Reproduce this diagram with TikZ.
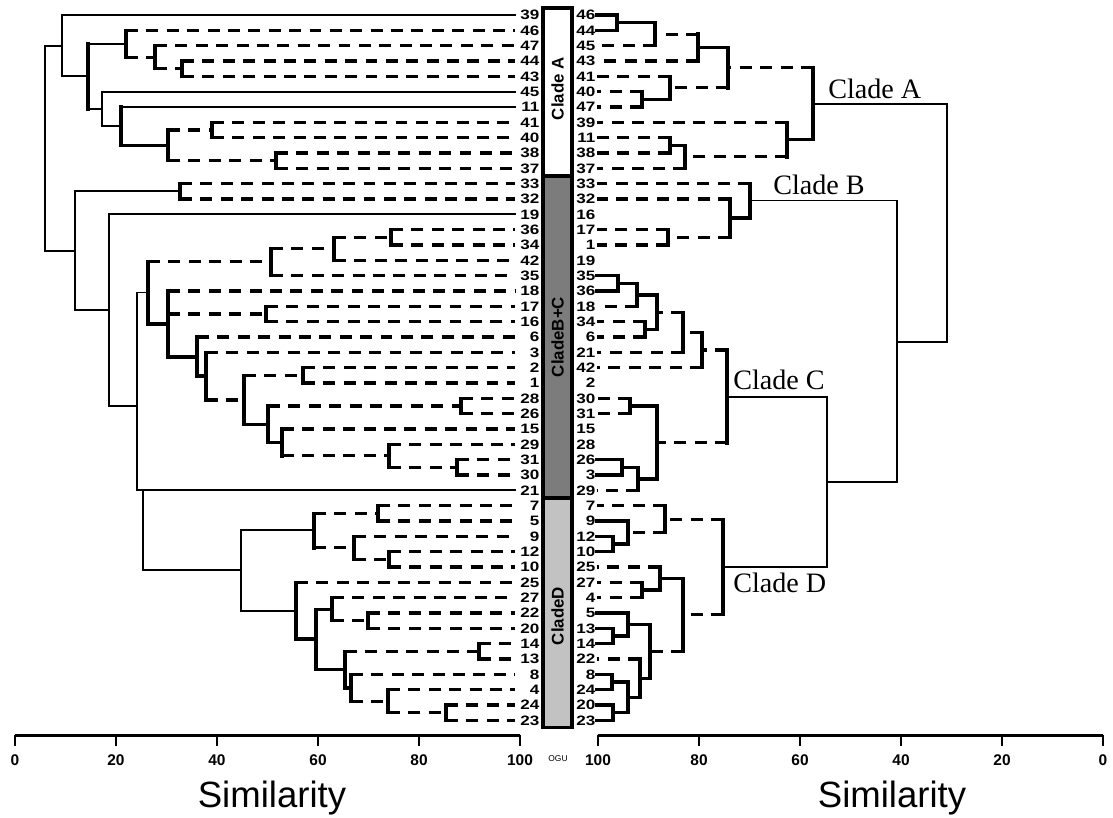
\documentclass[tikz,border=0pt]{standalone}
\usepackage{fontspec}
\setmainfont{Liberation Serif}
\setsansfont{Liberation Sans}
\newfontfamily\lblfont{Liberation Sans}[FakeStretch=1.25]
\usetikzlibrary{calc}
\definecolor{bardark}{HTML}{7C7C7C}
\definecolor{barlight}{HTML}{C2C2C2}
\tikzset{
  deep/.style={line width=1.3pt, line cap=rect},
  heavy/.style={line width=2.4pt, line cap=rect},
  dashy/.style={line width=2.3pt, dash pattern=on 8.5pt off 6pt},
  lbl/.style={font=\lblfont\bfseries\fontsize{9.7}{10}\selectfont, anchor=east,
              text width=16pt, align=right, text height=7pt, text depth=0pt,
              inner xsep=1pt, inner ysep=0.4pt},
  cladetxt/.style={font=\fontsize{20}{24}\selectfont, anchor=west, inner sep=0pt},
  barbox/.style={line width=2.2pt},
  bartxt/.style={rotate=90, inner sep=0pt, font=\sffamily\bfseries\fontsize{12}{14}\selectfont},
  axis/.style={line width=2pt},
  tick/.style={font=\sffamily\bfseries\fontsize{11}{13}\selectfont},
  axlbl/.style={font=\sffamily\fontsize{26}{30}\selectfont},
}
% one join of a dendrogram: vertical style, parent, style and child 1, style and child 2
\newcommand{\branch}[6]{%
  \draw[#1] (#2 |- #4) -- (#2 |- #6);
  \draw[#3] (#2 |- #4) -- (#4);
  \draw[#5] (#2 |- #6) -- (#6);}

\begin{document}
\begin{tikzpicture}[x=0.025cm, y={(0cm,-0.38325cm)}]
  \useasboundingbox (0,-0.978) rectangle (1113,52.316);
  \fill[white] (0,-0.978) rectangle (1113,52.316);

  % OGU bar
  \draw[barbox, fill=white] (543,-0.457) rectangle (572,10.5);
  \draw[barbox, fill=bardark] (543,10.5) rectangle (572,31.5);
  \draw[barbox, fill=barlight] (543,31.5) rectangle (572,46.45);
  \node[bartxt] (barA) at (557.5,4.8) {Clade A};
  \node[bartxt] (barBC) at (557.5,21) {CladeB+C};
  \node[bartxt] (barD) at (557.5,39.2) {CladeD};

  % leaf labels
  \foreach \n [count=\i from 0] in {39,46,47,44,43,45,11,41,40,38,37,33,32,19,36,34,42,35,18,17,16,6,3,2,1,28,26,15,29,31,30,21,7,5,9,12,10,25,27,22,20,14,13,8,4,24,23}
    \node[lbl] (L\n) at (541,\i) {\n};
  \foreach \n [count=\i from 0] in {46,44,45,43,41,40,47,39,11,38,37,33,32,16,17,1,19,35,36,18,34,6,21,42,2,30,31,15,28,26,3,29,7,9,12,10,25,27,4,5,13,14,22,8,24,20,23}
    \node[lbl] (R\n) at (597,\i) {\n};

  % left tree, clade A
  \coordinate (l-44-43) at (182,3.5);
  \coordinate (l-47) at (155,2.75);
  \coordinate (l-46) at (126,1.875);
  \coordinate (l-41-40) at (212,7.5);
  \coordinate (l-38-37) at (276,9.5);
  \coordinate (l-41-37) at (168,8.5);
  \coordinate (l-11) at (121,7.25);
  \coordinate (l-45) at (102,6.125);
  \coordinate (l-46-37) at (88,4);
  \coordinate (l-A) at (62,2);
  \branch{heavy}{l-44-43}{dashy}{L44.west}{dashy}{L43.west}
  \branch{heavy}{l-47}{dashy}{L47.west}{dashy}{l-44-43}
  \branch{heavy}{l-46}{dashy}{L46.west}{dashy}{l-47}
  \branch{heavy}{l-41-40}{dashy}{L41.west}{dashy}{L40.west}
  \branch{heavy}{l-38-37}{dashy}{L38.west}{dashy}{L37.west}
  \branch{heavy}{l-41-37}{dashy}{l-41-40}{dashy}{l-38-37}
  \branch{heavy}{l-11}{deep}{L11.west}{heavy}{l-41-37}
  \branch{deep}{l-45}{deep}{L45.west}{deep}{l-11}
  \branch{heavy}{l-46-37}{deep}{l-46}{deep}{l-45}
  \branch{deep}{l-A}{deep}{L39.west}{deep}{l-46-37}

  % left tree, clades B and C
  \coordinate (l-33-32) at (180,11.5);
  \coordinate (l-36-34) at (391,14.5);
  \coordinate (l-36-42) at (334,15.25);
  \coordinate (l-36-35) at (271,16.1);
  \coordinate (l-17-16) at (266,19.5);
  \coordinate (l-2-1) at (303,23.5);
  \coordinate (l-28-26) at (461,25.5);
  \coordinate (l-31-30) at (457,29.5);
  \coordinate (l-29-30) at (389,28.75);
  \coordinate (l-15-30) at (282,27.875);
  \coordinate (l-28-30) at (268,26.7);
  \coordinate (l-2-30) at (244,25.1);
  \coordinate (l-3-30) at (206,23.55);
  \coordinate (l-6-30) at (197,22.3);
  \coordinate (l-18-30) at (168,20.15);
  \coordinate (l-36-30) at (148,18.1);
  \branch{heavy}{l-33-32}{dashy}{L33.west}{dashy}{L32.west}
  \branch{heavy}{l-36-34}{dashy}{L36.west}{dashy}{L34.west}
  \branch{heavy}{l-36-42}{dashy}{l-36-34}{dashy}{L42.west}
  \branch{heavy}{l-36-35}{dashy}{l-36-42}{dashy}{L35.west}
  \branch{heavy}{l-17-16}{dashy}{L17.west}{dashy}{L16.west}
  \branch{heavy}{l-2-1}{dashy}{L2.west}{dashy}{L1.west}
  \branch{heavy}{l-28-26}{dashy}{L28.west}{dashy}{L26.west}
  \branch{heavy}{l-31-30}{dashy}{L31.west}{dashy}{L30.west}
  \branch{heavy}{l-29-30}{dashy}{L29.west}{dashy}{l-31-30}
  \branch{heavy}{l-15-30}{dashy}{L15.west}{dashy}{l-29-30}
  \branch{heavy}{l-28-30}{dashy}{l-28-26}{heavy}{l-15-30}
  \branch{heavy}{l-2-30}{dashy}{l-2-1}{heavy}{l-28-30}
  \branch{heavy}{l-3-30}{dashy}{L3.west}{dashy}{l-2-30}
  \branch{heavy}{l-6-30}{dashy}{L6.west}{heavy}{l-3-30}
  \branch{heavy}{l-18-30}{dashy}{L18.west}{heavy}{l-6-30}
  \draw[dashy] (l-18-30 |- l-17-16) -- (l-17-16);
  \branch{heavy}{l-36-30}{dashy}{l-36-35}{heavy}{l-18-30}

  % left tree, clade D
  \coordinate (l-7-5) at (378,32.5);
  \coordinate (l-12-10) at (389,35.5);
  \coordinate (l-9-10) at (354,34.75);
  \coordinate (l-7-10) at (314,33.6);
  \coordinate (l-22-20) at (368,39.5);
  \coordinate (l-27-20) at (332,38.75);
  \coordinate (l-14-13) at (479,41.5);
  \coordinate (l-24-23) at (446,45.5);
  \coordinate (l-4-23) at (388,44.75);
  \coordinate (l-8-23) at (351,43.9);
  \coordinate (l-14-23) at (345,42.7);
  \coordinate (l-27-23) at (316,40.7);
  \coordinate (l-25-23) at (296,38.85);
  \coordinate (l-D) at (241,36.2);
  \branch{heavy}{l-7-5}{dashy}{L7.west}{dashy}{L5.west}
  \branch{heavy}{l-12-10}{dashy}{L12.west}{dashy}{L10.west}
  \branch{heavy}{l-9-10}{dashy}{L9.west}{dashy}{l-12-10}
  \branch{heavy}{l-7-10}{dashy}{l-7-5}{dashy}{l-9-10}
  \branch{heavy}{l-22-20}{dashy}{L22.west}{dashy}{L20.west}
  \branch{heavy}{l-27-20}{dashy}{L27.west}{dashy}{l-22-20}
  \branch{heavy}{l-14-13}{dashy}{L14.west}{dashy}{L13.west}
  \branch{heavy}{l-24-23}{dashy}{L24.west}{dashy}{L23.west}
  \branch{heavy}{l-4-23}{dashy}{L4.west}{dashy}{l-24-23}
  \branch{heavy}{l-8-23}{dashy}{L8.west}{dashy}{l-4-23}
  \branch{heavy}{l-14-23}{dashy}{l-14-13}{heavy}{l-8-23}
  \branch{heavy}{l-27-23}{heavy}{l-27-20}{heavy}{l-14-23}
  \branch{heavy}{l-25-23}{dashy}{L25.west}{heavy}{l-27-23}
  \branch{deep}{l-D}{deep}{l-7-10}{deep}{l-25-23}

  % left tree, deep joins
  \coordinate (l-21-D) at (143,31);
  \coordinate (l-C-D) at (137,25.5);
  \coordinate (l-19-D) at (109,19.25);
  \coordinate (l-B) at (75,15.4);
  \coordinate (l-root) at (45,8.7);
  \branch{deep}{l-21-D}{deep}{L21.west}{deep}{l-D}
  \branch{deep}{l-C-D}{deep}{l-36-30}{deep}{l-21-D}
  \branch{deep}{l-19-D}{deep}{L19.west}{deep}{l-C-D}
  \branch{deep}{l-B}{deep}{l-33-32}{deep}{l-19-D}
  \branch{deep}{l-root}{deep}{l-A}{deep}{l-B}

  % right tree, clade A
  \coordinate (r-46-44) at (617,0.5);
  \coordinate (r-46-45) at (655,1.25);
  \coordinate (r-46-43) at (698,2.125);
  \coordinate (r-40-47) at (642,5.5);
  \coordinate (r-41-47) at (670,4.75);
  \coordinate (r-46-47) at (728,3.44);
  \coordinate (r-11-38) at (670,8.5);
  \coordinate (r-11-37) at (685,9.25);
  \coordinate (r-39-37) at (787,8.1);
  \coordinate (r-A) at (813,5.8);
  \branch{heavy}{r-46-44}{heavy}{R46.east}{heavy}{R44.east}
  \branch{heavy}{r-46-45}{heavy}{r-46-44}{dashy}{R45.east}
  \branch{heavy}{r-46-43}{dashy}{r-46-45}{dashy}{R43.east}
  \branch{heavy}{r-40-47}{dashy}{R40.east}{dashy}{R47.east}
  \branch{heavy}{r-41-47}{dashy}{R41.east}{heavy}{r-40-47}
  \branch{heavy}{r-46-47}{heavy}{r-46-43}{dashy}{r-41-47}
  \branch{heavy}{r-11-38}{dashy}{R11.east}{dashy}{R38.east}
  \branch{heavy}{r-11-37}{heavy}{r-11-38}{dashy}{R37.east}
  \branch{heavy}{r-39-37}{dashy}{R39.east}{dashy}{r-11-37}
  \branch{heavy}{r-A}{dashy}{r-46-47}{heavy}{r-39-37}

  % right tree, clade B
  \coordinate (r-17-1) at (668,14.5);
  \coordinate (r-32-1) at (730,13.25);
  \coordinate (r-B) at (750,12.1);
  \branch{heavy}{r-17-1}{dashy}{R17.east}{dashy}{R1.east}
  \branch{heavy}{r-32-1}{dashy}{R32.east}{dashy}{r-17-1}
  \branch{heavy}{r-B}{dashy}{R33.east}{heavy}{r-32-1}

  % right tree, clade C
  \coordinate (r-35-36) at (618,17.5);
  \coordinate (r-35-18) at (637,18.25);
  \coordinate (r-34-6) at (645,20.5);
  \coordinate (r-35-6) at (657,19.4);
  \coordinate (r-35-21) at (683,20.7);
  \coordinate (r-35-42) at (702,21.85);
  \coordinate (r-30-31) at (630,25.5);
  \coordinate (r-26-3) at (622,29.5);
  \coordinate (r-26-29) at (638,30.25);
  \coordinate (r-30-29) at (657,27.9);
  \coordinate (r-C) at (727,24.9);
  \branch{heavy}{r-35-36}{heavy}{R35.east}{heavy}{R36.east}
  \branch{heavy}{r-35-18}{heavy}{r-35-36}{dashy}{R18.east}
  \branch{heavy}{r-34-6}{dashy}{R34.east}{dashy}{R6.east}
  \branch{heavy}{r-35-6}{heavy}{r-35-18}{heavy}{r-34-6}
  \branch{heavy}{r-35-21}{dashy}{r-35-6}{dashy}{R21.east}
  \branch{heavy}{r-35-42}{dashy}{r-35-21}{dashy}{R42.east}
  \branch{heavy}{r-30-31}{dashy}{R30.east}{dashy}{R31.east}
  \branch{heavy}{r-26-3}{heavy}{R26.east}{heavy}{R3.east}
  \branch{heavy}{r-26-29}{heavy}{r-26-3}{dashy}{R29.east}
  \branch{heavy}{r-30-29}{heavy}{r-30-31}{heavy}{r-26-29}
  \branch{heavy}{r-C}{dashy}{r-35-42}{dashy}{r-30-29}

  % right tree, clade D
  \coordinate (r-12-10) at (613,34.5);
  \coordinate (r-9-10) at (628,33.75);
  \coordinate (r-7-10) at (665,32.9);
  \coordinate (r-27-4) at (642,37.5);
  \coordinate (r-25-4) at (660,36.75);
  \coordinate (r-13-14) at (613,40.5);
  \coordinate (r-5-14) at (628,39.75);
  \coordinate (r-8-24) at (612,43.5);
  \coordinate (r-20-23) at (613,45.5);
  \coordinate (r-8-23) at (628,44.5);
  \coordinate (r-22-23) at (640,43.25);
  \coordinate (r-5-23) at (650,41.5);
  \coordinate (r-25-23) at (683,39.1);
  \coordinate (r-D) at (723,36.0);
  \branch{heavy}{r-12-10}{heavy}{R12.east}{heavy}{R10.east}
  \branch{heavy}{r-9-10}{heavy}{R9.east}{heavy}{r-12-10}
  \branch{heavy}{r-7-10}{dashy}{R7.east}{dashy}{r-9-10}
  \branch{heavy}{r-27-4}{dashy}{R27.east}{dashy}{R4.east}
  \branch{heavy}{r-25-4}{dashy}{R25.east}{heavy}{r-27-4}
  \branch{heavy}{r-13-14}{heavy}{R13.east}{heavy}{R14.east}
  \branch{heavy}{r-5-14}{heavy}{R5.east}{heavy}{r-13-14}
  \branch{heavy}{r-8-24}{heavy}{R8.east}{heavy}{R24.east}
  \branch{heavy}{r-20-23}{heavy}{R20.east}{heavy}{R23.east}
  \branch{heavy}{r-8-23}{heavy}{r-8-24}{heavy}{r-20-23}
  \branch{heavy}{r-22-23}{dashy}{R22.east}{heavy}{r-8-23}
  \branch{heavy}{r-5-23}{heavy}{r-5-14}{heavy}{r-22-23}
  \branch{heavy}{r-25-23}{heavy}{r-25-4}{dashy}{r-5-23}
  \branch{heavy}{r-D}{dashy}{r-7-10}{dashy}{r-25-23}

  % right tree, deep joins
  \coordinate (r-C-D) at (827,30.45);
  \coordinate (r-B-D) at (897,21.3);
  \coordinate (r-root) at (947,13.55);
  \branch{deep}{r-C-D}{deep}{r-C}{deep}{r-D}
  \branch{deep}{r-B-D}{deep}{r-B}{deep}{r-C-D}
  \branch{deep}{r-root}{deep}{r-A}{deep}{r-B-D}

  % clade names
  \node[cladetxt] (nameA) at (828,4.8) {Clade A};
  \node[cladetxt] (nameB) at (773,11.1) {Clade B};
  \node[cladetxt] (nameC) at (733,23.8) {Clade C};
  \node[cladetxt] (nameD) at (733,37.05) {Clade D};

  % similarity axes
  \draw[axis] (15,46.97) -- (520,46.97);
  \draw[axis] (598,46.97) -- (1103,46.97);
  \foreach \v in {0,20,...,100} {
    \draw[axis] ({15+5.05*\v},46.97) -- ({15+5.05*\v},47.7);
    \draw[axis] ({1103-5.05*\v},46.97) -- ({1103-5.05*\v},47.7);
    \node[tick] (tl\v) at ({15+5.05*\v},48.6) {\v};
    \node[tick] (tr\v) at ({1103-5.05*\v},48.6) {\v};
  }
  \node[axlbl] (simL) at (272,51.08) {Similarity};
  \node[axlbl] (simR) at (892,51.08) {Similarity};
  \node[font=\sffamily\fontsize{6}{7}\selectfont] (ogu) at (558,48.47) {OGU};
\end{tikzpicture}
\end{document}
